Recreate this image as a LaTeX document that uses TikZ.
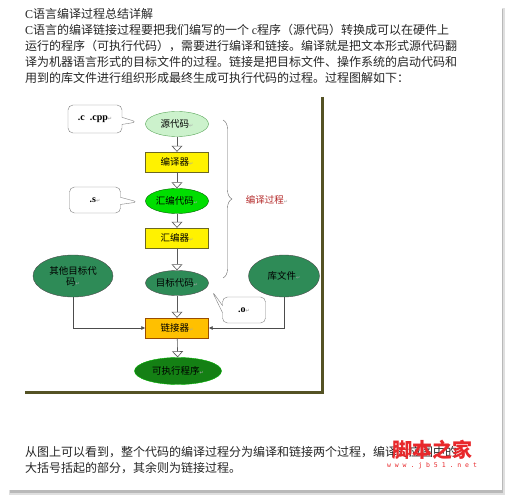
\documentclass[tikz,border=0pt]{standalone}
\usepackage{fontspec}
\setmainfont{Noto Sans CJK SC}
\newfontfamily\timesfont{Liberation Serif}
\newfontfamily\markfont{DejaVu Sans}
\newfontfamily\urlfont[LetterSpace=60]{DejaVu Sans Mono}
\usepackage{tikz}
\usetikzlibrary{arrows.meta,shapes.geometric,shapes.callouts,decorations.pathreplacing,positioning}

\definecolor{frameolive}{RGB}{84,82,36}
\definecolor{palegreen}{RGB}{204,242,204}
\definecolor{asmgreen}{RGB}{0,222,0}
\definecolor{objgreen}{RGB}{46,139,87}
\definecolor{exegreen}{RGB}{20,128,20}
\definecolor{linkorange}{RGB}{255,192,0}
\definecolor{bracered}{RGB}{180,40,40}
\definecolor{markred}{RGB}{232,40,43}

\newcommand{\ret}{{\markfont\fontsize{5}{5}\selectfont\color{gray!70}↵}}

\begin{document}
\begin{tikzpicture}[x=1pt,y=-1pt]
            \tikzstyle{state}=[ellipse,draw,thin,inner sep=0pt,minimum width=63,minimum height=25,font=\fontsize{9.5}{11}\selectfont]
            \tikzstyle{tool}=[rectangle,draw,thin,inner sep=0pt,minimum width=63,minimum height=20,font=\fontsize{9.5}{11}\selectfont]
            \tikzstyle{line}=[anchor=west,font=\fontsize{12}{14}\selectfont,inner sep=0pt,text=black!85]

            \tikzstyle{S}=[state,draw=green!30!gray,fill=palegreen]   % source
            \tikzstyle{A}=[state,draw=green!40!black,fill=asmgreen]   % assembly
            \tikzstyle{O}=[state,draw=black!70,fill=objgreen]         % object files
            \tikzstyle{X}=[state,draw=green!70!black,fill=exegreen,minimum width=87,minimum height=27]
            \tikzstyle{T}=[tool,draw=olive!70!black,fill=yellow]      % compiler, assembler
            \tikzstyle{L}=[tool,draw=orange!60!black,fill=linkorange] % linker

            \tikzstyle{tip}=[rectangle callout,draw=gray,rounded corners=5pt,fill=white,inner sep=0pt,font=\timesfont\bfseries\fontsize{10}{12}\selectfont]
            \tikzstyle{hollow}=[double=white,double distance=3.2pt,draw=gray!70!black,line width=0.6pt,-{Triangle[open,length=6pt,width=11pt]}]
            \tikzstyle{feed}=[draw=gray!60!black,line width=0.6pt,-{Latex[length=4pt,width=4pt]}]

            % page with shadow
            \useasboundingbox (0,0) rectangle (509,500);
            \fill[white] (0,0) rectangle (509,500);
            \fill[gray!25] (9,8) rectangle (505,495);
            \fill[gray!55] (10,9) rectangle (503,493);
            \fill[white] (8,6) rectangle (502,490);

            % text above
            \node[line] (t0) at (25,14) {{\timesfont C}语言编译过程总结详解};
            \node[line] (t1) at (25,30) {{\timesfont C}语言的编译链接过程要把我们编写的一个 {\timesfont c}程序（源代码）转换成可以在硬件上};
            \node[line] (t2) at (25,46) {运行的程序（可执行代码），需要进行编译和链接。编译就是把文本形式源代码翻};
            \node[line] (t3) at (25,62) {译为机器语言形式的目标文件的过程。链接是把目标文件、操作系统的启动代码和};
            \node[line] (t4) at (25,78) {用到的库文件进行组织形成最终生成可执行代码的过程。过程图解如下：};

            % frame of the figure
            \draw[frameolive,line width=3pt] (322,97) -- (322,392) -- (25,392);

            \node[S] (0) at (177,124) {源代码\ret};
            \node[T] (1) at (177,162) {编译器\ret};
            \node[A] (2) at (177,201) {汇编代码\ret};
            \node[T] (3) at (177,238) {汇编器\ret};
            \node[O] (4) at (177,283) {目标代码\ret};
            \node[L] (5) at (177,328) {链接器\ret};
            \node[X] (6) at (178,371) {可执行程序\ret};
            \node[O,minimum width=80,minimum height=42,align=center] (7) at (73,276) {其他目标代\\码\ret};
            \node[O,minimum width=71,minimum height=42] (8) at (284,276) {库文件\ret};

            \node[tip,minimum width=54,minimum height=28,callout absolute pointer={(137,122)}] (c) at (95,119) {.c\ \ .cpp\ret};
            \node[tip,minimum width=51,minimum height=26,callout absolute pointer={(138,202)}] (s) at (95,200) {.s\ret};
            \node[tip,minimum width=43,minimum height=26,callout absolute pointer={(212,291)}] (o) at (244,310) {.o\ret};

            \path[hollow] (0) edge (1);
            \path[hollow] (1) edge (2);
            \path[hollow] (2) edge (3);
            \path[hollow] (3) edge (4);
            \path[hollow] (4) edge (5);
            \path[hollow] (5) edge (6);

            \draw[feed] (7.south) |- (5.west);
            \draw[feed] (8.south) |- (5.east);

            % compile part
            \coordinate (b0) at (223,120);
            \coordinate (b1) at (223,278);
            \draw[gray!80!black,decorate,decoration={brace,amplitude=9pt}] (b0) -- (b1);
            \node[text=bracered,font=\fontsize{9.5}{11}\selectfont] (p) at (267,200) {编译过程\ret};

            % text below
            \node[line] (u0) at (25,452) {从图上可以看到，整个代码的编译过程分为编译和链接两个过程，编译对应图中的};
            \node[line] (u1) at (25,468) {大括号括起的部分，其余则为链接过程。};

            % watermark
            \node[text=markred,font=\bfseries\fontsize{20}{22}\selectfont,inner sep=0pt] (w0) at (432,450) {脚本之家};
            \node[text=markred,font=\urlfont\fontsize{6.5}{7}\selectfont,inner sep=0pt] (w1) at (432,466) {www.jb51.net};
        \end{tikzpicture}
\end{document}
